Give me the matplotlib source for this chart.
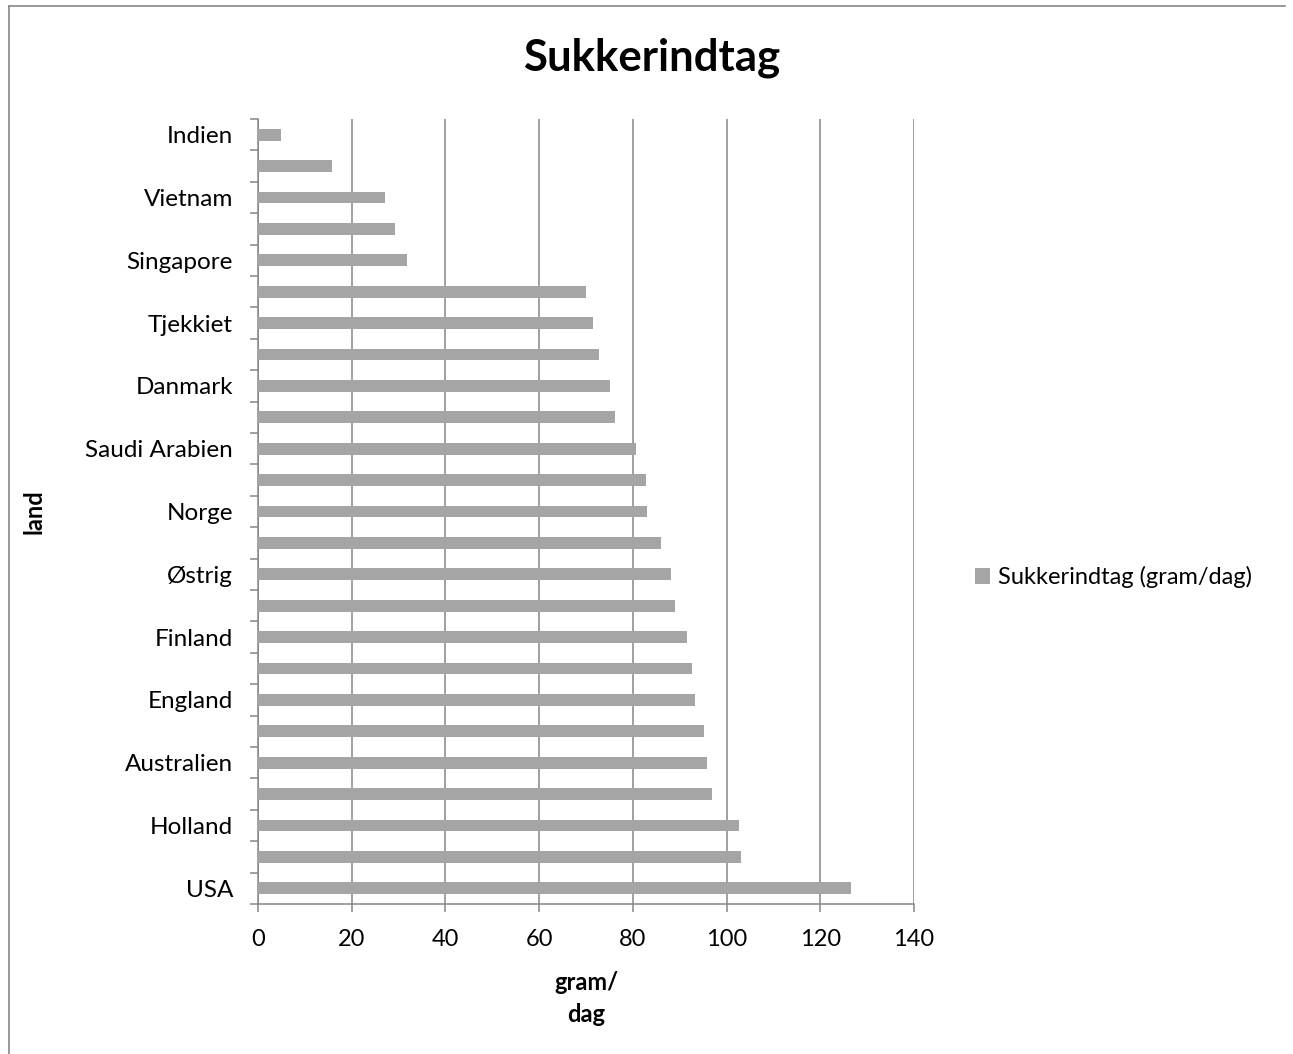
import matplotlib.pyplot as plt
from matplotlib.lines import Line2D
from matplotlib.ticker import FixedLocator

plt.rcParams['font.family'] = ['Lato', 'DejaVu Sans']

# sugar intake per country, listed bottom-to-top as in the chart
values = [126.5, 103.0, 102.6, 96.8, 95.8, 95.1, 93.2, 92.6, 91.6, 89.1,
          88.1, 86.1, 83.1, 82.9, 80.7, 76.1, 75.1, 72.7, 71.6, 70.1,
          31.9, 29.3, 27.2, 15.7, 5.0]
# only every other country name is printed on the axis
labels = ['USA', '', 'Holland', '', 'Australien', '', 'England', '', 'Finland', '',
          'Østrig', '', 'Norge', '', 'Saudi Arabien', '', 'Danmark', '', 'Tjekkiet', '',
          'Singapore', '', 'Vietnam', '', 'Indien']
xticks = [0, 20, 40, 60, 80, 100, 120, 140]

W, H = 1293, 1054
fig = plt.figure(figsize=(W / 100, H / 100), dpi=100)
fig.patch.set_facecolor('white')

# chart frame (left and top edges)
frame_kw = dict(transform=fig.transFigure, color='#888888', linewidth=1.2)
fig.lines.append(Line2D([9 / W, 9 / W], [0, 1 - 6 / H], **frame_kw))
fig.lines.append(Line2D([9 / W, 1285 / W], [1 - 6 / H, 1 - 6 / H], **frame_kw))

ax = fig.add_axes([258 / W, 1 - 904 / H, 656 / W, (904 - 119) / H])
pos = list(range(len(values)))
ax.barh(pos, values, height=0.38, color='#A5A5A5', label='Sukkerindtag (gram/dag)', zorder=3)

ax.set_xlim(0, 140)
ax.set_ylim(-0.5, len(values) - 0.5)
ax.set_xticks(xticks)
ax.set_xticklabels([str(t) for t in xticks], fontsize=17)
ax.grid(axis='x', color='#868686', linewidth=1.1, zorder=0)
ax.tick_params(axis='x', length=6, width=1.1, color='#868686', pad=12)

# category boundaries carry the tick marks, centers carry the names
ax.yaxis.set_major_locator(FixedLocator([i - 0.5 for i in range(len(values) + 1)]))
ax.yaxis.set_major_formatter(plt.NullFormatter())
ax.yaxis.set_minor_locator(FixedLocator(pos))
ax.set_yticklabels(labels, minor=True, fontsize=17.5)
ax.tick_params(axis='y', which='major', length=6, width=1.1, color='#868686')
ax.tick_params(axis='y', which='minor', length=0, pad=18)

for side in ['top', 'right']:
    ax.spines[side].set_visible(False)
for side in ['left', 'bottom']:
    ax.spines[side].set_color('#868686')
    ax.spines[side].set_linewidth(1.1)

fig.text(652 / W, 1 - 58 / H, 'Sukkerindtag', fontsize=31.5, fontweight='bold',
         ha='center', va='center')
fig.text(34 / W, 1 - 512 / H, 'land', fontsize=17, fontweight='bold',
         rotation=90, ha='center', va='center')
fig.text(586 / W, 1 - 982 / H, 'gram/', fontsize=17, fontweight='bold',
         ha='center', va='center')
fig.text(586 / W, 1 - 1015 / H, 'dag', fontsize=17, fontweight='bold',
         ha='center', va='center')

fig.legend(loc='center left', bbox_to_anchor=(958 / W, 1 - 577 / H),
           frameon=False, fontsize=17, handlelength=0.65, handleheight=0.65,
           handletextpad=0.35, borderpad=0.2)

fig.savefig('out.png', dpi=100)
